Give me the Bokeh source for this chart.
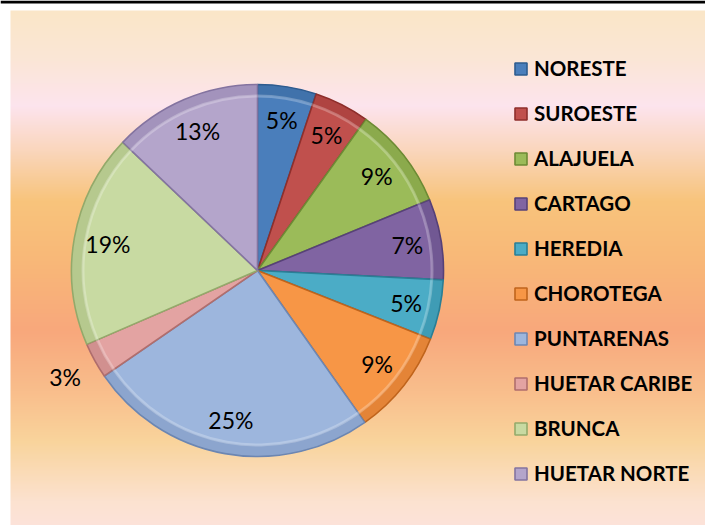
import numpy as np
from bokeh.plotting import figure
from bokeh.models import ColumnDataSource, Range1d, Legend, LegendItem
from bokeh.core.properties import value
from bokeh.embed import file_html
from bokeh.resources import INLINE

# ---- data ----
regions = ["NORESTE", "SUROESTE", "ALAJUELA", "CARTAGO", "HEREDIA",
           "CHOROTEGA", "PUNTARENAS", "HUETAR CARIBE", "BRUNCA", "HUETAR NORTE"]
shares = [5.1, 4.8, 8.9, 7.0, 5.2, 9.2, 25.2, 3.1, 18.6, 12.9]
colors = ["#4A7EBB", "#C0504D", "#9BBB59", "#8064A2", "#4BACC6",
          "#F79646", "#9DB6DD", "#E3A3A2", "#C8DAA2", "#B4A5CB"]
dark = ["#2E5C8F", "#8E2F2C", "#6E8B35", "#574178", "#2A7F96",
        "#C0641C", "#6D87B3", "#B06E6D", "#94AA6B", "#8474A0"]

W, H = 705, 525
# data coords: x = page x, y = 525 - page y
cx, cy, R = 257.0, 255.0, 186.0

vals = np.array(shares, dtype=float)
frac = vals / vals.sum()
cum_end = np.cumsum(frac)
cum_start = cum_end - frac
start = np.pi / 2 - cum_end * 2 * np.pi
end = np.pi / 2 - cum_start * 2 * np.pi
mid = (start + end) / 2
labels = [f"{round(v)}%" for v in vals]
lab_r = np.array([152.0] * len(vals))
lab_r[7] = 220.0
lx = cx + lab_r * np.cos(mid)
ly = cy + lab_r * np.sin(mid)

src = ColumnDataSource(dict(region=regions, start=start, end=end, color=colors,
                            dark=dark, lx=lx, ly=ly, label=labels))

p = figure(width=W, height=H, output_backend="svg", toolbar_location=None,
           x_range=Range1d(0, W), y_range=Range1d(0, H),
           min_border=0, background_fill_color="white", border_fill_color="white",
           outline_line_color=None)
p.axis.visible = False
p.grid.visible = False

# background gradient
stops_y = [10, 60, 105, 150, 200, 260, 330, 390, 440, 500, 525]
stops_c = [(250, 231, 200), (251, 230, 215), (253, 228, 238), (250, 214, 188),
           (248, 196, 124), (248, 184, 120), (248, 168, 124), (249, 190, 140),
           (249, 212, 156), (252, 226, 208), (253, 226, 218)]
ys = np.arange(10, 525)
img = np.zeros((len(ys), 1), dtype=np.uint32)
view = img.view(dtype=np.uint8).reshape((len(ys), 1, 4))
sc = np.array(stops_c, dtype=float)
for k in range(3):
    view[:, 0, k] = np.interp(ys, stops_y, sc[:, k]).astype(np.uint8)
view[:, 0, 3] = 255
img = img[::-1]  # image rows go bottom->top
p.image_rgba(image=[img], x=10, y=0, dw=W - 10, dh=H - 10)
# thin black bar along the top edge
p.quad(left=0, right=W, bottom=H - 3, top=H, fill_color="black", line_color=None)

# pie
wr = p.wedge(x=cx, y=cy, radius=R, start_angle="start", end_angle="end",
             fill_color="color", line_color="dark", line_width=1.6, source=src)
# bevel-ish rim
p.annular_wedge(x=cx, y=cy, inner_radius=R - 11, outer_radius=R,
                start_angle="start", end_angle="end", fill_color="dark",
                fill_alpha=0.35, line_color=None, source=src)
p.annular_wedge(x=cx, y=cy, inner_radius=R - 13, outer_radius=R - 10,
                start_angle="start", end_angle="end", fill_color="white",
                fill_alpha=0.25, line_color=None, source=src)

p.text(x="lx", y="ly", text="label", source=src, text_align="center",
       text_baseline="middle", text_font=value("Lato"), text_font_size="23px",
       text_color="black")

items = [LegendItem(label=r, renderers=[wr], index=i) for i, r in enumerate(regions)]
# legend bottom-left in screen px from frame bottom-left
legend = Legend(items=items, location=(503, 27), glyph_width=15, glyph_height=15,
                label_height=30, spacing=15, padding=10, margin=0,
                label_standoff=6, label_text_font="Lato",
                label_text_font_style="bold", label_text_font_size="20.5px",
                label_text_color="black", border_line_alpha=0,
                background_fill_alpha=0)
p.add_layout(legend, "center")

open("out.html", "w").write(file_html(p, INLINE))
